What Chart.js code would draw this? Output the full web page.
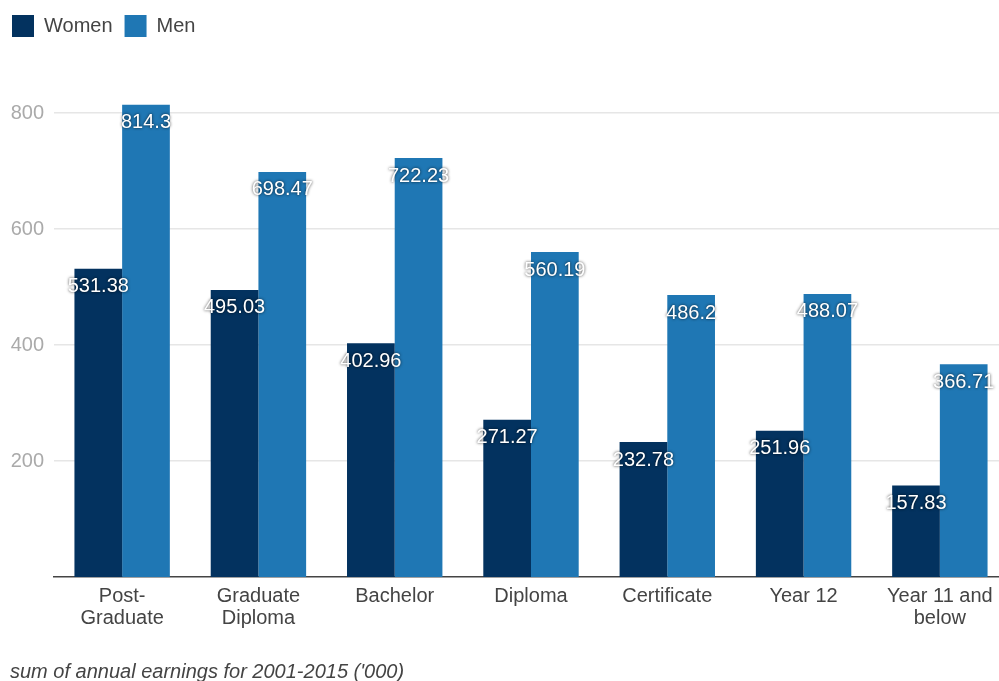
<!DOCTYPE html>
<html>
<head>
<meta charset="utf-8">
<script src="https://cdn.jsdelivr.net/npm/chart.js@4/dist/chart.umd.min.js"></script>
<style>
html,body{margin:0;padding:0;background:#fff;overflow:hidden;}
#wrap{width:1008px;height:681px;position:relative;}
</style>
</head>
<body>
<div id="wrap"><canvas id="c" width="1008" height="681"></canvas></div>
<script>
const categories = [["Post-","Graduate"],["Graduate","Diploma"],"Bachelor","Diploma","Certificate","Year 12",["Year 11 and","below"]];
const women = [531.38, 495.03, 402.96, 271.27, 232.78, 251.96, 157.83];
const men = [814.3, 698.47, 722.23, 560.19, 486.2, 488.07, 366.71];
const yTicks = [200, 400, 600, 800];
const caption = "sum of annual earnings for 2001-2015 ('000)";

const FONT = "'Liberation Sans', Arial, sans-serif";

const valueLabels = {
  id: 'valueLabels',
  afterDatasetsDraw(chart) {
    const ctx = chart.ctx;
    ctx.save();
    ctx.font = "20px " + FONT;
    ctx.textAlign = 'center';
    ctx.textBaseline = 'middle';
    chart.data.datasets.forEach((ds, i) => {
      const meta = chart.getDatasetMeta(i);
      meta.data.forEach((el, j) => {
        const p = el.getProps(['x','y'], true);
        const txt = String(ds.data[j]);
        ctx.shadowColor = 'rgba(0,0,0,0.8)';
        ctx.shadowBlur = 3;
        ctx.shadowOffsetX = 0;
        ctx.shadowOffsetY = 0;
        ctx.fillStyle = '#ffffff';
        ctx.fillText(txt, p.x, p.y + 18);
      });
    });
    ctx.restore();
  }
};

const legendHeight = {
  id: 'legendHeight',
  beforeInit(chart) {
    const lg = chart.legend;
    const orig = lg.fit;
    lg.fit = function() { orig.call(this); this.height = 52; };
  }
};

const captionPlugin = {
  id: 'captionPlugin',
  afterDraw(chart) {
    const ctx = chart.ctx;
    ctx.save();
    ctx.font = "italic 20px " + FONT;
    ctx.fillStyle = '#444';
    ctx.textAlign = 'left';
    ctx.textBaseline = 'middle';
    ctx.fillText(caption, 10, chart.height - 9);
    ctx.restore();
  }
};

new Chart(document.getElementById('c'), {
  type: 'bar',
  data: {
    labels: categories,
    datasets: [
      { label: 'Women', data: women, backgroundColor: '#03325f', borderWidth: 0 },
      { label: 'Men', data: men, backgroundColor: '#1f77b4', borderWidth: 0 }
    ]
  },
  options: {
    responsive: false,
    animation: false,
    devicePixelRatio: 1,
    layout: { padding: { left: 0, right: 0, top: 3, bottom: 44 } },
    datasets: { bar: { categoryPercentage: 0.7, barPercentage: 1.0 } },
    scales: {
      x: {
        grid: { display: false, drawTicks: false },
        border: { display: true, color: '#444', width: 1.5 },
        ticks: { color: '#444', font: { family: FONT, size: 20, lineHeight: 1.1 }, padding: 8, maxRotation: 0, autoSkip: false }
      },
      y: {
        min: 0,
        max: 900,
        afterBuildTicks(scale) { scale.ticks = yTicks.map(v => ({ value: v })); },
        afterFit(scale) { scale.width = 54; },
        grid: { color: '#e6e6e6', drawTicks: false, lineWidth: 1.5 },
        border: { display: false },
        ticks: { color: '#aaaaaa', font: { family: FONT, size: 20 }, padding: 10 }
      }
    },
    plugins: {
      legend: {
        position: 'top',
        align: 'start',
        labels: {
          boxWidth: 22, boxHeight: 22, padding: 12,
          color: '#444', font: { family: FONT, size: 20 }
        }
      },
      title: { display: false },
      tooltip: { enabled: false }
    }
  },
  plugins: [legendHeight, valueLabels, captionPlugin]
});
</script>
</body>
</html>
